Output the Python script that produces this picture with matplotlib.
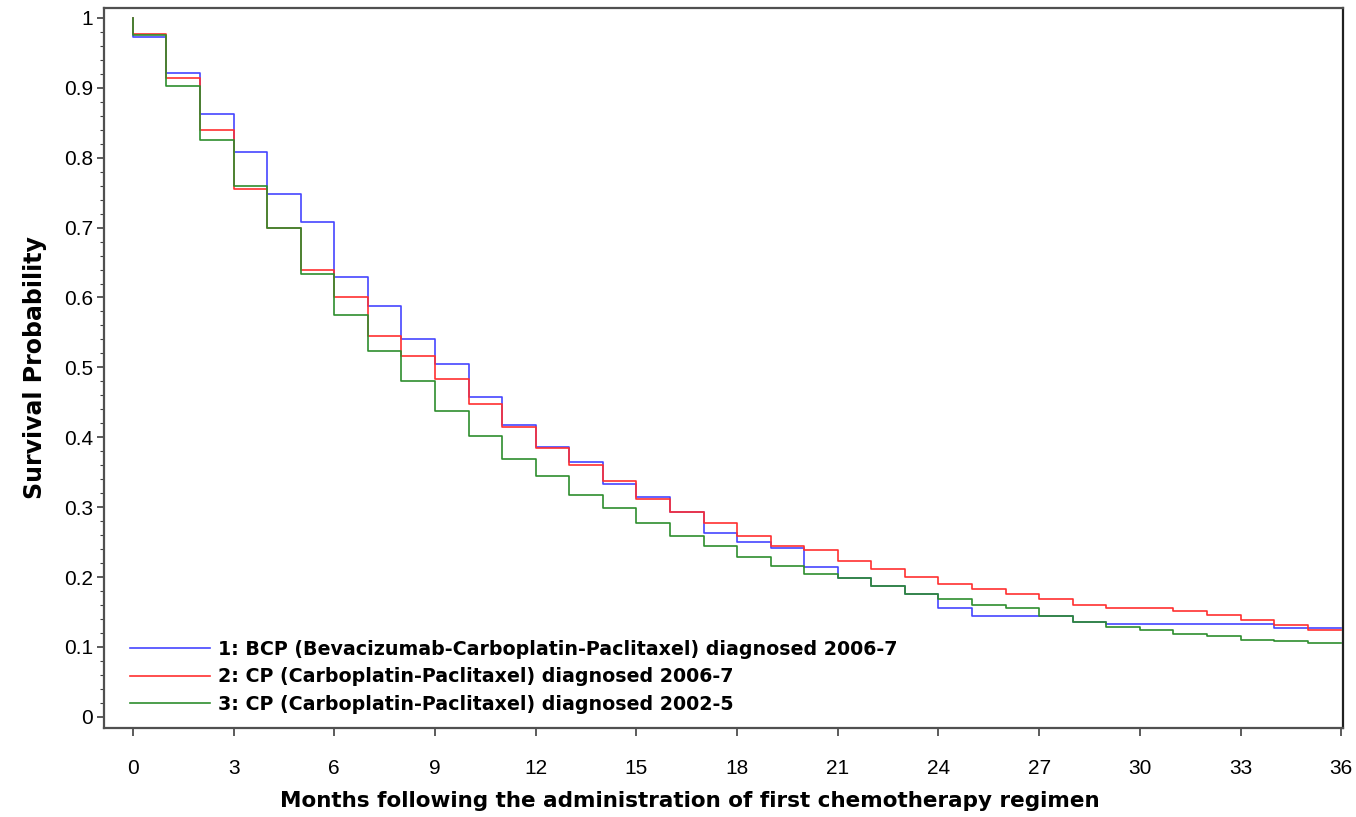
import matplotlib.pyplot as plt
from matplotlib.ticker import MultipleLocator

# Kaplan-Meier style survival estimates, one value per month interval [m, m+1)
months = list(range(0, 37))

bcp_2006 = [0.973, 0.921, 0.862, 0.808, 0.748, 0.708, 0.629, 0.588, 0.541, 0.505,
            0.458, 0.418, 0.386, 0.364, 0.333, 0.315, 0.293, 0.263, 0.250, 0.241,
            0.214, 0.199, 0.187, 0.176, 0.155, 0.144, 0.144, 0.144, 0.136, 0.133,
            0.133, 0.133, 0.133, 0.133, 0.127, 0.127]

cp_2006 = [0.977, 0.914, 0.840, 0.755, 0.700, 0.640, 0.600, 0.545, 0.516, 0.483,
           0.448, 0.414, 0.384, 0.360, 0.337, 0.312, 0.293, 0.277, 0.258, 0.245,
           0.238, 0.223, 0.211, 0.200, 0.190, 0.183, 0.176, 0.169, 0.160, 0.156,
           0.156, 0.151, 0.146, 0.139, 0.131, 0.124]

cp_2002 = [0.975, 0.903, 0.825, 0.760, 0.699, 0.633, 0.575, 0.524, 0.481, 0.438,
           0.402, 0.369, 0.344, 0.318, 0.299, 0.277, 0.259, 0.244, 0.229, 0.216,
           0.205, 0.198, 0.187, 0.176, 0.168, 0.160, 0.155, 0.144, 0.135, 0.129,
           0.124, 0.119, 0.116, 0.110, 0.109, 0.105]

labels = ['1: BCP (Bevacizumab-Carboplatin-Paclitaxel) diagnosed 2006-7',
          '2: CP (Carboplatin-Paclitaxel) diagnosed 2006-7',
          '3: CP (Carboplatin-Paclitaxel) diagnosed 2002-5']
colors = ['#4646ff', '#ff3030', '#2e8e2e']

plt.rcParams['font.family'] = ['Liberation Sans', 'DejaVu Sans']

fig = plt.figure(figsize=(13.56, 8.17), dpi=100)
ax = fig.add_axes([0.0767, 0.109, 0.9137, 0.881])

for series, color, label in zip([bcp_2006, cp_2006, cp_2002], colors, labels):
    # start at 1.0 at time zero, then step down at each month
    x = [months[0]] + months
    y = [1.0] + series + [series[-1]]
    ax.step(x, y, where='post', color=color, linewidth=1.2, label=label)

ax.set_xlim(-0.86, 36.05)
ax.set_ylim(-0.016, 1.014)
ax.xaxis.set_major_locator(MultipleLocator(3))
ax.yaxis.set_major_locator(MultipleLocator(0.1))
ax.yaxis.set_minor_locator(MultipleLocator(0.02))
ax.set_yticklabels(['0' if abs(v) < 1e-9 else ('1' if abs(v - 1) < 1e-9 else f'{v:.1f}')
                    for v in ax.get_yticks()])

ax.tick_params(axis='x', direction='out', length=6, width=1.2, pad=16,
               labelsize=15, colors='#404040', labelcolor='black')
ax.tick_params(axis='y', which='major', direction='out', length=5, width=1.2,
               pad=3, labelsize=15, colors='#404040', labelcolor='black')
ax.tick_params(axis='y', which='minor', direction='out', length=3, width=0.8,
               colors='#404040')
for s in ax.spines.values():
    s.set_color('#505050')
    s.set_linewidth(1.6)
ax.spines['right'].set_color('#202020')

ax.set_xlabel('Months following the administration of first chemotherapy regimen',
              fontsize=15.5, fontweight='bold', family='DejaVu Sans', labelpad=8)
ax.xaxis.set_label_coords(0.473, -0.088)
ax.set_ylabel('Survival Probability', fontsize=17, fontweight='bold',
              family='DejaVu Sans', labelpad=12)

ax.legend(loc='lower left', bbox_to_anchor=(0.006, -0.007), frameon=False,
          prop={'weight': 'bold', 'size': 13.7, 'family': 'DejaVu Sans'},
          handlelength=4.2, handletextpad=0.4, labelspacing=0.45, borderaxespad=0.6)

fig.savefig('out.png', dpi=100)
